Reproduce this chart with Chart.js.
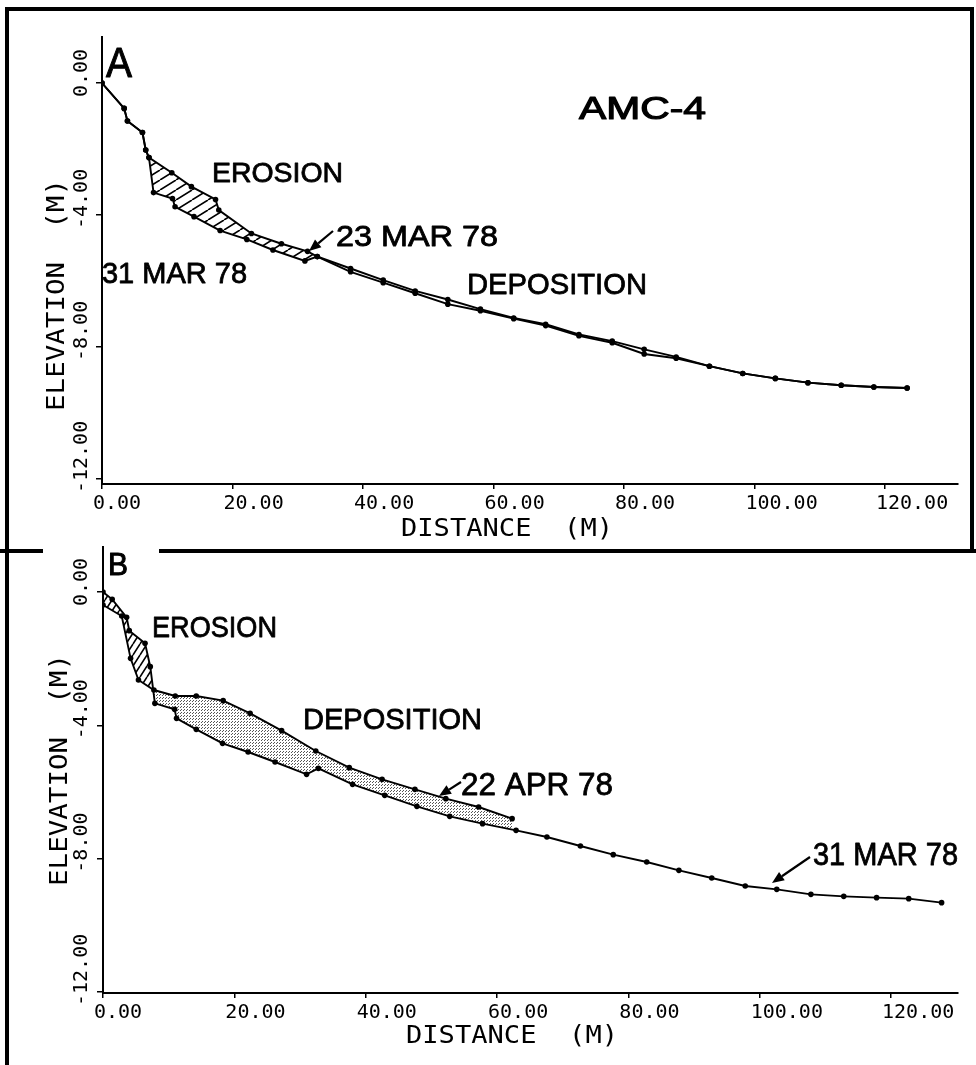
<!DOCTYPE html>
<html><head><meta charset="utf-8">
<script src="https://cdn.jsdelivr.net/npm/chart.js@4.4.1/dist/chart.umd.min.js"></script>
<style>
html,body{margin:0;padding:0;background:#fff;width:976px;height:1065px;overflow:hidden;position:relative}
canvas{position:absolute;left:0}
#ca{top:0}
#cb{top:545px}
.bar{position:absolute;background:#000}
</style></head><body>
<canvas id="ca" width="976" height="545"></canvas>
<canvas id="cb" width="976" height="520"></canvas>
<div class="bar" style="left:5px;top:7px;width:969px;height:4px"></div>
<div class="bar" style="left:5px;top:7px;width:4px;height:1058px"></div>
<div class="bar" style="left:970px;top:7px;width:4px;height:546px"></div>
<div class="bar" style="left:0px;top:549px;width:43px;height:4px"></div>
<div class="bar" style="left:159px;top:549px;width:817px;height:4px"></div>
<script>
// ---- tick labels ----
const xTickValues = [0, 20, 40, 60, 80, 100, 120];
const xTickLabels = ['0.00', '20.00', '40.00', '60.00', '80.00', '100.00', '120.00'];
const yTickValues = [0, -4, -8, -12];
const yTickLabels = ['0.00', '-4.00', '-8.00', '-12.00'];

// ---- Panel A: profile surveyed 23 MAR 78 ----
const distA23 = [0, 3.4, 3.9, 6.2, 6.7, 7.2, 10.7, 13.7, 17.4, 17.9, 22.9, 27.5, 31.5, 33.0, 38.1, 43.1, 48.0, 53.0, 58.0, 63.1, 68.0, 73.1, 78.2, 83.1, 88.0, 93.1, 98.2, 103.2, 108.2, 113.3, 118.3, 123.4];
const elevA23 = [0, -0.77, -1.15, -1.5, -2.03, -2.26, -2.72, -3.14, -3.53, -3.85, -4.56, -4.87, -5.1, -5.26, -5.72, -6.05, -6.37, -6.7, -6.9, -7.14, -7.35, -7.66, -7.87, -8.21, -8.34, -8.58, -8.8, -8.95, -9.08, -9.16, -9.21, -9.24];
// ---- Panel A: profile surveyed 31 MAR 78 ----
const distA31 = [0, 3.4, 3.9, 6.2, 6.7, 7.2, 7.9, 10.8, 11.2, 14.1, 18.1, 22.2, 26.2, 31.1, 33.0, 38.1, 43.1, 48.0, 53.0, 58.0, 63.1, 68.0, 73.1, 78.2, 83.1, 88.0, 93.1, 98.2, 103.2, 108.2, 113.3, 118.3, 123.4];
const elevA31 = [0, -0.77, -1.15, -1.5, -2.03, -2.26, -3.32, -3.5, -3.75, -4.05, -4.47, -4.74, -5.06, -5.39, -5.26, -5.62, -5.97, -6.3, -6.56, -6.85, -7.12, -7.31, -7.62, -7.82, -8.07, -8.3, -8.58, -8.8, -8.95, -9.08, -9.16, -9.21, -9.24];

// ---- Panel B: profile surveyed 22 APR 78 ----
const distB22 = [0, 2.85, 4.2, 5.4, 7.75, 11.0, 14.2, 18.3, 22.4, 27.2, 32.4, 37.5, 42.5, 47.5, 52.2, 57.2, 62.3];
const elevB22 = [-0.39, -0.72, -1.99, -2.64, -2.94, -3.12, -3.12, -3.26, -3.64, -4.16, -4.77, -5.27, -5.62, -5.92, -6.2, -6.45, -6.8];
// ---- Panel B: profile surveyed 31 MAR 78 ----
const distB31 = [0, 1.4, 3.6, 4.0, 6.4, 7.2, 7.9, 10.9, 11.2, 14.2, 18.2, 22.1, 26.2, 31.0, 32.8, 38.0, 42.9, 47.8, 52.8, 57.8, 62.9, 67.6, 72.7, 77.7, 82.8, 87.7, 92.7, 97.8, 102.6, 107.8, 112.8, 117.8, 122.7, 127.7];
const elevB31 = [0, -0.22, -0.76, -1.16, -1.54, -2.24, -3.34, -3.52, -3.79, -4.12, -4.54, -4.8, -5.1, -5.47, -5.29, -5.77, -6.1, -6.43, -6.73, -6.95, -7.15, -7.35, -7.62, -7.88, -8.1, -8.35, -8.58, -8.82, -8.92, -9.07, -9.13, -9.17, -9.2, -9.32];

const pts = (xs, ys) => xs.map((x, i) => ({x: x, y: ys[i]}));

// ---- fill patterns ----
function hatch(W, H, lw) {
  const c = document.createElement('canvas'); c.width = W; c.height = H;
  const g = c.getContext('2d');
  g.strokeStyle = '#000'; g.lineWidth = lw; g.beginPath();
  for (let k = -1; k <= 1; k++) { g.moveTo(k * W, H); g.lineTo(k * W + W, 0); }
  g.stroke();
  return g.createPattern(c, 'repeat');
}
function stipple() {
  const c = document.createElement('canvas'); c.width = 3; c.height = 3;
  const g = c.getContext('2d');
  g.fillStyle = '#fff'; g.fillRect(0, 0, 3, 3);
  g.fillStyle = '#555'; g.fillRect(0, 0, 1, 1); g.fillRect(1, 2, 1, 1);
  return g.createPattern(c, 'repeat');
}
const hatchA = hatch(16, 10, 1.6);
const hatchB = hatch(7, 11, 1.6);
const dots = stipple();
const NONE = 'rgba(0,0,0,0)';

// ---- annotation plugin ----
const ANNOT_FONT = '"Liberation Sans", Arial, sans-serif';
const MONO_FONT = '"DejaVu Sans Mono", monospace';
function drawText(ctx, t) {
  ctx.save();
  ctx.font = (t.size) + 'px ' + (t.mono ? MONO_FONT : ANNOT_FONT);
  const m = ctx.measureText(t.t).width;
  const sx = t.w ? t.w / m : 1;
  ctx.translate(t.x, t.y);
  if (t.rot) ctx.rotate(t.rot);
  ctx.scale(sx, 1);
  ctx.fillStyle = '#000';
  ctx.textBaseline = t.base || 'alphabetic';
  ctx.textAlign = 'left';
  const x0 = t.center ? -m / 2 : 0;
  ctx.fillText(t.t, x0, 0);
  if (t.bold) { ctx.strokeStyle = '#000'; ctx.lineWidth = t.bold; ctx.lineJoin = 'round'; ctx.strokeText(t.t, x0, 0); }
  ctx.restore();
}
function drawArrow(ctx, a) {
  ctx.save();
  ctx.strokeStyle = '#000'; ctx.fillStyle = '#000'; ctx.lineWidth = 2.2;
  const ang = Math.atan2(a.y2 - a.y1, a.x2 - a.x1);
  const L = 12, Wd = 5;
  const bx = a.x2 - L * Math.cos(ang), by = a.y2 - L * Math.sin(ang);
  ctx.beginPath(); ctx.moveTo(a.x1, a.y1); ctx.lineTo(bx, by); ctx.stroke();
  ctx.beginPath();
  ctx.moveTo(a.x2, a.y2);
  ctx.lineTo(bx + Wd * Math.sin(ang), by - Wd * Math.cos(ang));
  ctx.lineTo(bx - Wd * Math.sin(ang), by + Wd * Math.cos(ang));
  ctx.closePath(); ctx.fill();
  ctx.restore();
}
const annotPlugin = {
  id: 'annot',
  afterDraw(chart, args, o) {
    const ctx = chart.ctx;
    const ys = chart.scales.y;
    yTickValues.forEach((v, i) => {
      const py = ys.getPixelForValue(v);
      drawText(ctx, {t: yTickLabels[i], x: o.yLabX, y: py + o.yLabOff, size: 20, mono: true, rot: -Math.PI / 2, base: 'middle'});
    });
    (o.texts || []).forEach(t => drawText(ctx, t));
    (o.arrows || []).forEach(a => drawArrow(ctx, a));
  }
};

function makeChart(id, datasets, s, annot) {
  return new Chart(document.getElementById(id), {
    type: 'scatter',
    data: {datasets: datasets},
    options: {
      responsive: false, animation: false, events: [],
      layout: {autoPadding: false, padding: {left: 0, right: s.padR, top: s.padT, bottom: 0}},
      plugins: {legend: {display: false}, tooltip: {enabled: false}, filler: {drawTime: 'beforeDatasetsDraw'}, annot: annot},
      scales: {
        x: {
          type: 'linear', position: 'bottom', min: 0, max: s.xMax,
          afterBuildTicks: sc => { sc.ticks = xTickValues.map(v => ({value: v})); },
          afterFit: sc => { sc.height = s.xH; sc.paddingLeft = 0; sc.paddingRight = 0; },
          grid: {display: true, drawOnChartArea: false, drawTicks: true, tickLength: 5, color: '#000', lineWidth: 1.5},
          border: {display: true, color: '#000', width: 2},
          ticks: {autoSkip: false, maxRotation: 0, minRotation: 0, align: 'start', labelOffset: -9, padding: 3, color: '#000',
                  font: {family: 'DejaVu Sans Mono', size: 20}, callback: (v, i) => xTickLabels[i]}
        },
        y: {
          type: 'linear', min: s.yMin, max: s.yMax,
          afterBuildTicks: sc => { sc.ticks = yTickValues.map(v => ({value: v})); },
          afterFit: sc => { sc.width = s.yW; sc.paddingTop = 0; sc.paddingBottom = 0; },
          grid: {display: true, drawOnChartArea: false, drawTicks: true, tickLength: 6, color: '#000', lineWidth: 1.5},
          border: {display: true, color: '#000', width: 2},
          ticks: {display: false}
        }
      }
    },
    plugins: [annotPlugin]
  });
}
const lineStyle = {showLine: true, tension: 0, borderColor: '#000', borderWidth: 1.9, pointRadius: 2.8, pointBackgroundColor: '#000', pointBorderWidth: 0, pointHoverRadius: 0};

makeChart('ca', [
  Object.assign({label: '23 MAR 78', data: pts(distA23, elevA23), fill: {target: 1, above: hatchA, below: NONE}}, lineStyle),
  Object.assign({label: '31 MAR 78', data: pts(distA31, elevA31), fill: false}, lineStyle)
], {padR: 18, padT: 37, xMax: 131.2, xH: 61, yW: 102, yMin: -12.15, yMax: 1.394}, {
  yLabX: 82, yLabOff: 14,
  texts: [
    {t: 'A', x: 106, y: 77, size: 42, w: 26, bold: 1},
    {t: 'AMC-4', x: 579, y: 119, size: 32, w: 127, bold: 1.2},
    {t: 'EROSION', x: 212, y: 182, size: 27, w: 131, bold: 0.8},
    {t: '23 MAR 78', x: 336, y: 246, size: 29, w: 162, bold: 0.8},
    {t: '31 MAR 78', x: 102, y: 283, size: 29, w: 145, bold: 0.8},
    {t: 'DEPOSITION', x: 467, y: 294, size: 30, w: 180, bold: 0.8},
    {t: 'DISTANCE  (M)', x: 507, y: 529, size: 25, w: 212, mono: true, center: true, base: 'middle'},
    {t: 'ELEVATION  (M)', x: 57, y: 295, size: 25, w: 232, mono: true, center: true, base: 'middle', rot: -Math.PI / 2}
  ],
  arrows: [{x1: 333, y1: 231, x2: 309, y2: 251}]
});

makeChart('cb', [
  Object.assign({label: '22 APR 78', data: pts(distB22, elevB22), fill: {target: 1, above: dots, below: hatchB}}, lineStyle),
  Object.assign({label: '31 MAR 78', data: pts(distB31, elevB31), fill: false}, lineStyle)
], {padR: 18, padT: 2, xMax: 130.2, xH: 72, yW: 103, yMin: -12.03, yMax: 1.35}, {
  yLabX: 82, yLabOff: 14,
  texts: [
    {t: 'B', x: 108, y: 30, size: 31, w: 20, bold: 1},
    {t: 'EROSION', x: 152, y: 92, size: 30, w: 125, bold: 0.8},
    {t: 'DEPOSITION', x: 303, y: 184, size: 29, w: 179, bold: 0.8},
    {t: '22 APR 78', x: 461, y: 250, size: 31, w: 152, bold: 0.8},
    {t: '31 MAR 78', x: 813, y: 320, size: 31, w: 145, bold: 0.8},
    {t: 'DISTANCE  (M)', x: 512, y: 491, size: 25, w: 212, mono: true, center: true, base: 'middle'},
    {t: 'ELEVATION  (M)', x: 60, y: 225, size: 25, w: 232, mono: true, center: true, base: 'middle', rot: -Math.PI / 2}
  ],
  arrows: [{x1: 461, y1: 237, x2: 439, y2: 251}, {x1: 810, y1: 312, x2: 772, y2: 338}]
});
</script>
</body></html>
